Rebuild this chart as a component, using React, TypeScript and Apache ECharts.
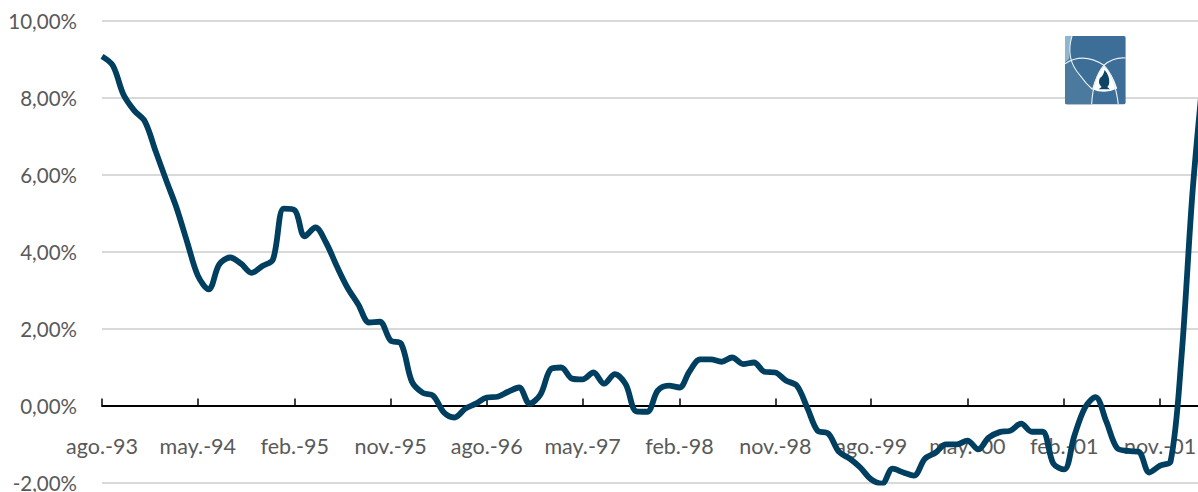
import React, { useEffect, useRef } from "react";
import * as echarts from "echarts";

const START_YEAR = 1993;
const START_MONTH = 7;
const values = [
  9.08, 8.84, 8.09, 7.67, 7.39, 6.61, 5.83, 5.15, 4.24, 3.38, 3.02, 3.67, 3.85, 3.69, 3.45, 3.63, 3.8,
  5.12, 5.08, 4.4, 4.63, 4.24, 3.62, 3.07, 2.63, 2.16, 2.18, 1.69, 1.61, 0.62, 0.33, 0.26, -0.18, -0.31,
  -0.08, 0.05, 0.21, 0.23, 0.36, 0.47, 0.05, 0.29, 0.96, 0.99, 0.7, 0.68, 0.86, 0.57, 0.82, 0.55, -0.15,
  -0.16, 0.39, 0.52, 0.47, 0.88, 1.2, 1.2, 1.14, 1.25, 1.08, 1.12, 0.88, 0.86, 0.65, 0.52, -0.08, -0.65,
  -0.73, -1.2, -1.38, -1.61, -1.92, -2.03, -1.64, -1.74, -1.82, -1.38, -1.22, -1.01, -1.01, -0.91, -1.14,
  -0.83, -0.69, -0.65, -0.47, -0.68, -0.68, -1.51, -1.66, -0.81, -0.05, 0.22, -0.42, -1.1, -1.18, -1.2,
  -1.74, -1.56, -1.45, 1.27, 5.5, 8.35,
];
const tickLabels = [
  "ago.-93", "may.-94", "feb.-95", "nov.-95", "ago.-96", "may.-97",
  "feb.-98", "nov.-98", "ago.-99", "may.-00", "feb.-01", "nov.-01",
];
const TICK_STEP_MONTHS = 9;
const AXIS_END_DAY = 3122;

const monthDay = (i: number) =>
  Math.round((Date.UTC(START_YEAR, START_MONTH + i, 1) - Date.UTC(START_YEAR, START_MONTH, 1)) / 86400000);
const seriesData = values.map((v, i) => [monthDay(i), v]);
const tickDays = tickLabels.map((_, i) => monthDay(i * TICK_STEP_MONTHS));

const K = "M20 12H192Q197 12 197 17V212Q197 217 192 217H20Q15 217 15 212V17Q15 12 20 12Z";
const LOWER = "M15 98Q24 90 30 86Q50 135 97 172L95 217H20Q15 217 15 212Z";
const CORNER = "M20 12H36Q25 40 28 80Q20 86 15 92V17Q15 12 20 12Z";
const TEAR = "M132 100Q158 125 172 170Q135 188 96 172Q108 130 132 100Z";
const ARC_A = "M15 95Q70 60 132 100Q165 135 175 217";
const ARC_B = "M197 78Q160 75 132 100Q100 135 95 217";
const ARC_C = "M36 12Q15 80 60 130Q78 155 97 172";
const FLAME = "M134 114Q148 130 148 150Q148 160 142 165L150 172L116 172L125 165Q112 152 120 138Q130 132 134 114Z";
const shapes: [string, string][] = [
  ["logoK", K], ["logoLower", LOWER], ["logoCorner", CORNER], ["logoTear", TEAR],
  ["logoArcA", ARC_A], ["logoArcB", ARC_B], ["logoArcC", ARC_C], ["logoFlame", FLAME],
];
shapes.forEach(([n, d]) => echarts.graphic.registerShape(n, echarts.graphic.extendPath(d, {})));

const logoPart = (type: string, style: any) => ({ type, style, z: 10 });

export default function App() {
  const ref = useRef<HTMLDivElement>(null);
  useEffect(() => {
    document.body.style.margin = "0";
    const chart = echarts.init(ref.current!, undefined, { renderer: "svg" });
    const font = "Lato, 'Open Sans', sans-serif";
    chart.setOption({
      animation: false,
      backgroundColor: "#ffffff",
      grid: { left: 102, right: 0, top: 21, bottom: 9.5, containLabel: false, outerBoundsMode: "none" },
      xAxis: {
        type: "value",
        min: 0,
        max: AXIS_END_DAY,
        axisLine: { show: true, onZero: true, lineStyle: { color: "#000000", width: 2 } },
        axisTick: { show: true, inside: true, length: 7, customValues: tickDays, lineStyle: { color: "#000000", width: 1.5 } },
        axisLabel: {
          show: true,
          customValues: tickDays,
          hideOverlap: false,
          margin: -48,
          color: "#595959",
          fontSize: 21.5,
          fontFamily: font,
          formatter: (v: number) => tickLabels[tickDays.indexOf(v)] ?? "",
        },
        splitLine: { show: false },
        minorTick: { show: false },
      },
      yAxis: {
        type: "value",
        min: -2,
        max: 10,
        interval: 2,
        axisLine: { show: false },
        axisTick: { show: false },
        axisLabel: {
          margin: 25,
          color: "#595959",
          fontSize: 20.5,
          lineHeight: 18,
          fontFamily: font,
          formatter: (v: number) => v.toFixed(2).replace(".", ",") + "%",
        },
        splitLine: { lineStyle: { color: "#D9D9D9", width: 2 } },
      },
      series: [
        {
          type: "line",
          data: seriesData,
          showSymbol: false,
          smooth: 0.33,
          clip: true,
          lineStyle: { color: "#003F5F", width: 5.8, cap: "butt", join: "round" },
          z: 5,
        },
      ],
      graphic: [
        {
          type: "group",
          x: 1060,
          y: 32,
          scaleX: 1 / 3,
          scaleY: 1 / 3,
          z: 10,
          children: [
            logoPart("logoK", { fill: "#3D6E97" }),
            logoPart("logoLower", { fill: "#4C7A9E" }),
            logoPart("logoCorner", { fill: "#8FB6CE" }),
            logoPart("logoTear", { fill: "#FFFFFF" }),
            logoPart("logoArcA", { fill: "none", stroke: "#E6EEF3", lineWidth: 3.5 }),
            logoPart("logoArcB", { fill: "none", stroke: "#E6EEF3", lineWidth: 3.5 }),
            logoPart("logoArcC", { fill: "none", stroke: "#E6EEF3", lineWidth: 3.5 }),
            logoPart("logoFlame", { fill: "#0E4566" }),
          ],
        },
      ],
    });
    return () => chart.dispose();
  }, []);
  return <div ref={ref} style={{ position: "absolute", left: 0, top: 0, width: 1198, height: 492 }} />;
}
